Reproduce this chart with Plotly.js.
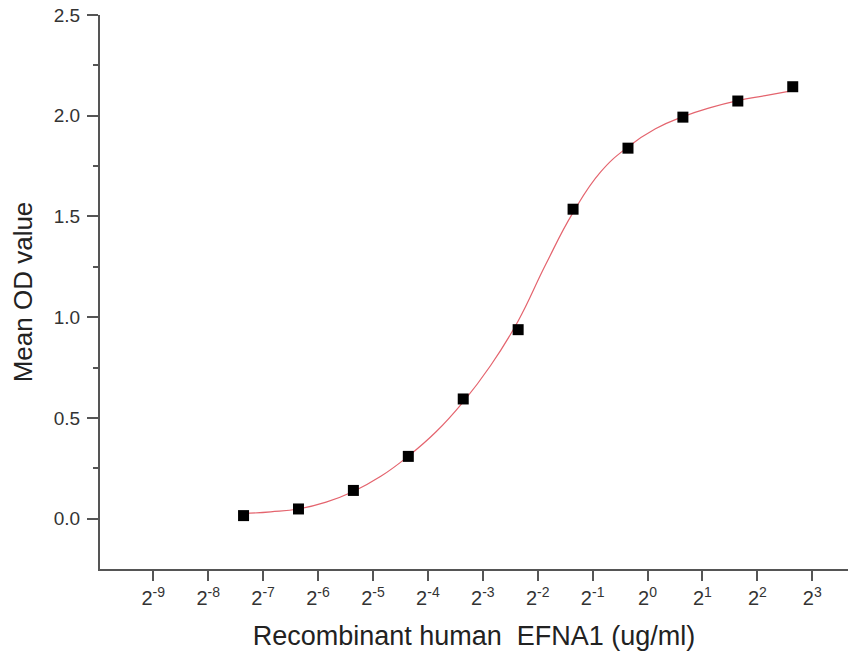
<!DOCTYPE html>
<html>
<head>
<meta charset="utf-8">
<script src="https://cdn.plot.ly/plotly-3.0.1.min.js"></script>
<style>html,body{margin:0;padding:0;background:#fff;}#chart{width:848px;height:663px;}</style>
</head>
<body>
<div id="chart"></div>
<script>
// Measured points (ug/ml, mean OD)
const concentration = [0.006103515625, 0.01220703125, 0.0244140625, 0.048828125, 0.09765625, 0.1953125, 0.390625, 0.78125, 1.5625, 3.125, 6.25];
const meanOD = [0.015, 0.048, 0.140, 0.309, 0.594, 0.938, 1.536, 1.839, 1.993, 2.073, 2.144];

// Fitted curve
const fitConc = [0.0061, 0.0086, 0.0122, 0.0173, 0.0244, 0.0345, 0.0488, 0.0691, 0.0977, 0.138, 0.195, 0.276, 0.391, 0.552, 0.781, 1.105, 1.5625, 2.21, 3.125, 4.42, 6.25];
const fitOD = [0.025, 0.034, 0.048, 0.082, 0.135, 0.21, 0.31, 0.43, 0.58, 0.76, 0.98, 1.26, 1.52, 1.72, 1.845, 1.935, 1.995, 2.04, 2.075, 2.10, 2.125];

// Tick labels
const tickExponents = [-9, -8, -7, -6, -5, -4, -3, -2, -1, 0, 1, 2, 3];
const tickVals = tickExponents.map(e => Math.pow(2, e));
const tickText = tickExponents.map(e => '2<sup>' + e + '</sup>');

const fontFamily = '"Liberation Sans", Arial, sans-serif';

const traces = [
  {
    x: fitConc, y: fitOD, type: 'scatter', mode: 'lines',
    line: {color: 'rgb(228,100,110)', width: 1.2, shape: 'spline', smoothing: 1.3},
    hoverinfo: 'skip', showlegend: false
  },
  {
    x: concentration, y: meanOD, type: 'scatter', mode: 'markers',
    marker: {symbol: 'square', size: 11, color: '#000'},
    showlegend: false
  }
];

const layout = {
  width: 848, height: 663,
  margin: {l: 100, r: 0, t: 15, b: 94},
  paper_bgcolor: '#fff', plot_bgcolor: '#fff',
  font: {family: fontFamily, color: '#333'},
  xaxis: {
    type: 'log',
    range: [-9.97 * Math.log10(2), 3.65 * Math.log10(2)],
    tickvals: tickVals, ticktext: tickText,
    ticks: 'outside', ticklen: 10, tickwidth: 2, tickcolor: '#555',
    showline: true, linecolor: '#555', linewidth: 2,
    showgrid: false, zeroline: false,
    tickfont: {size: 20, color: '#333'},
    title: {text: 'Recombinant human  EFNA1 (ug/ml)', font: {size: 27, color: '#222'}, standoff: 18},
    automargin: false
  },
  yaxis: {
    range: [-0.25, 2.5],
    tickvals: [0, 0.5, 1.0, 1.5, 2.0, 2.5],
    ticktext: ['0.0', '0.5', '1.0', '1.5', '2.0', '2.5'],
    ticks: 'outside', ticklen: 11, tickwidth: 2, tickcolor: '#555',
    minor: {tickvals: [0.25, 0.75, 1.25, 1.75, 2.25], ticks: 'outside', ticklen: 5, tickwidth: 2, tickcolor: '#555'},
    showline: true, linecolor: '#555', linewidth: 2,
    showgrid: false, zeroline: false,
    tickfont: {size: 19, color: '#333'},
    ticklabelstandoff: 3,
    title: {text: 'Mean OD value', font: {size: 26, color: '#222'}, standoff: 14},
    automargin: false
  }
};

Plotly.newPlot('chart', traces, layout, {displayModeBar: false, staticPlot: true});
</script>
</body>
</html>
